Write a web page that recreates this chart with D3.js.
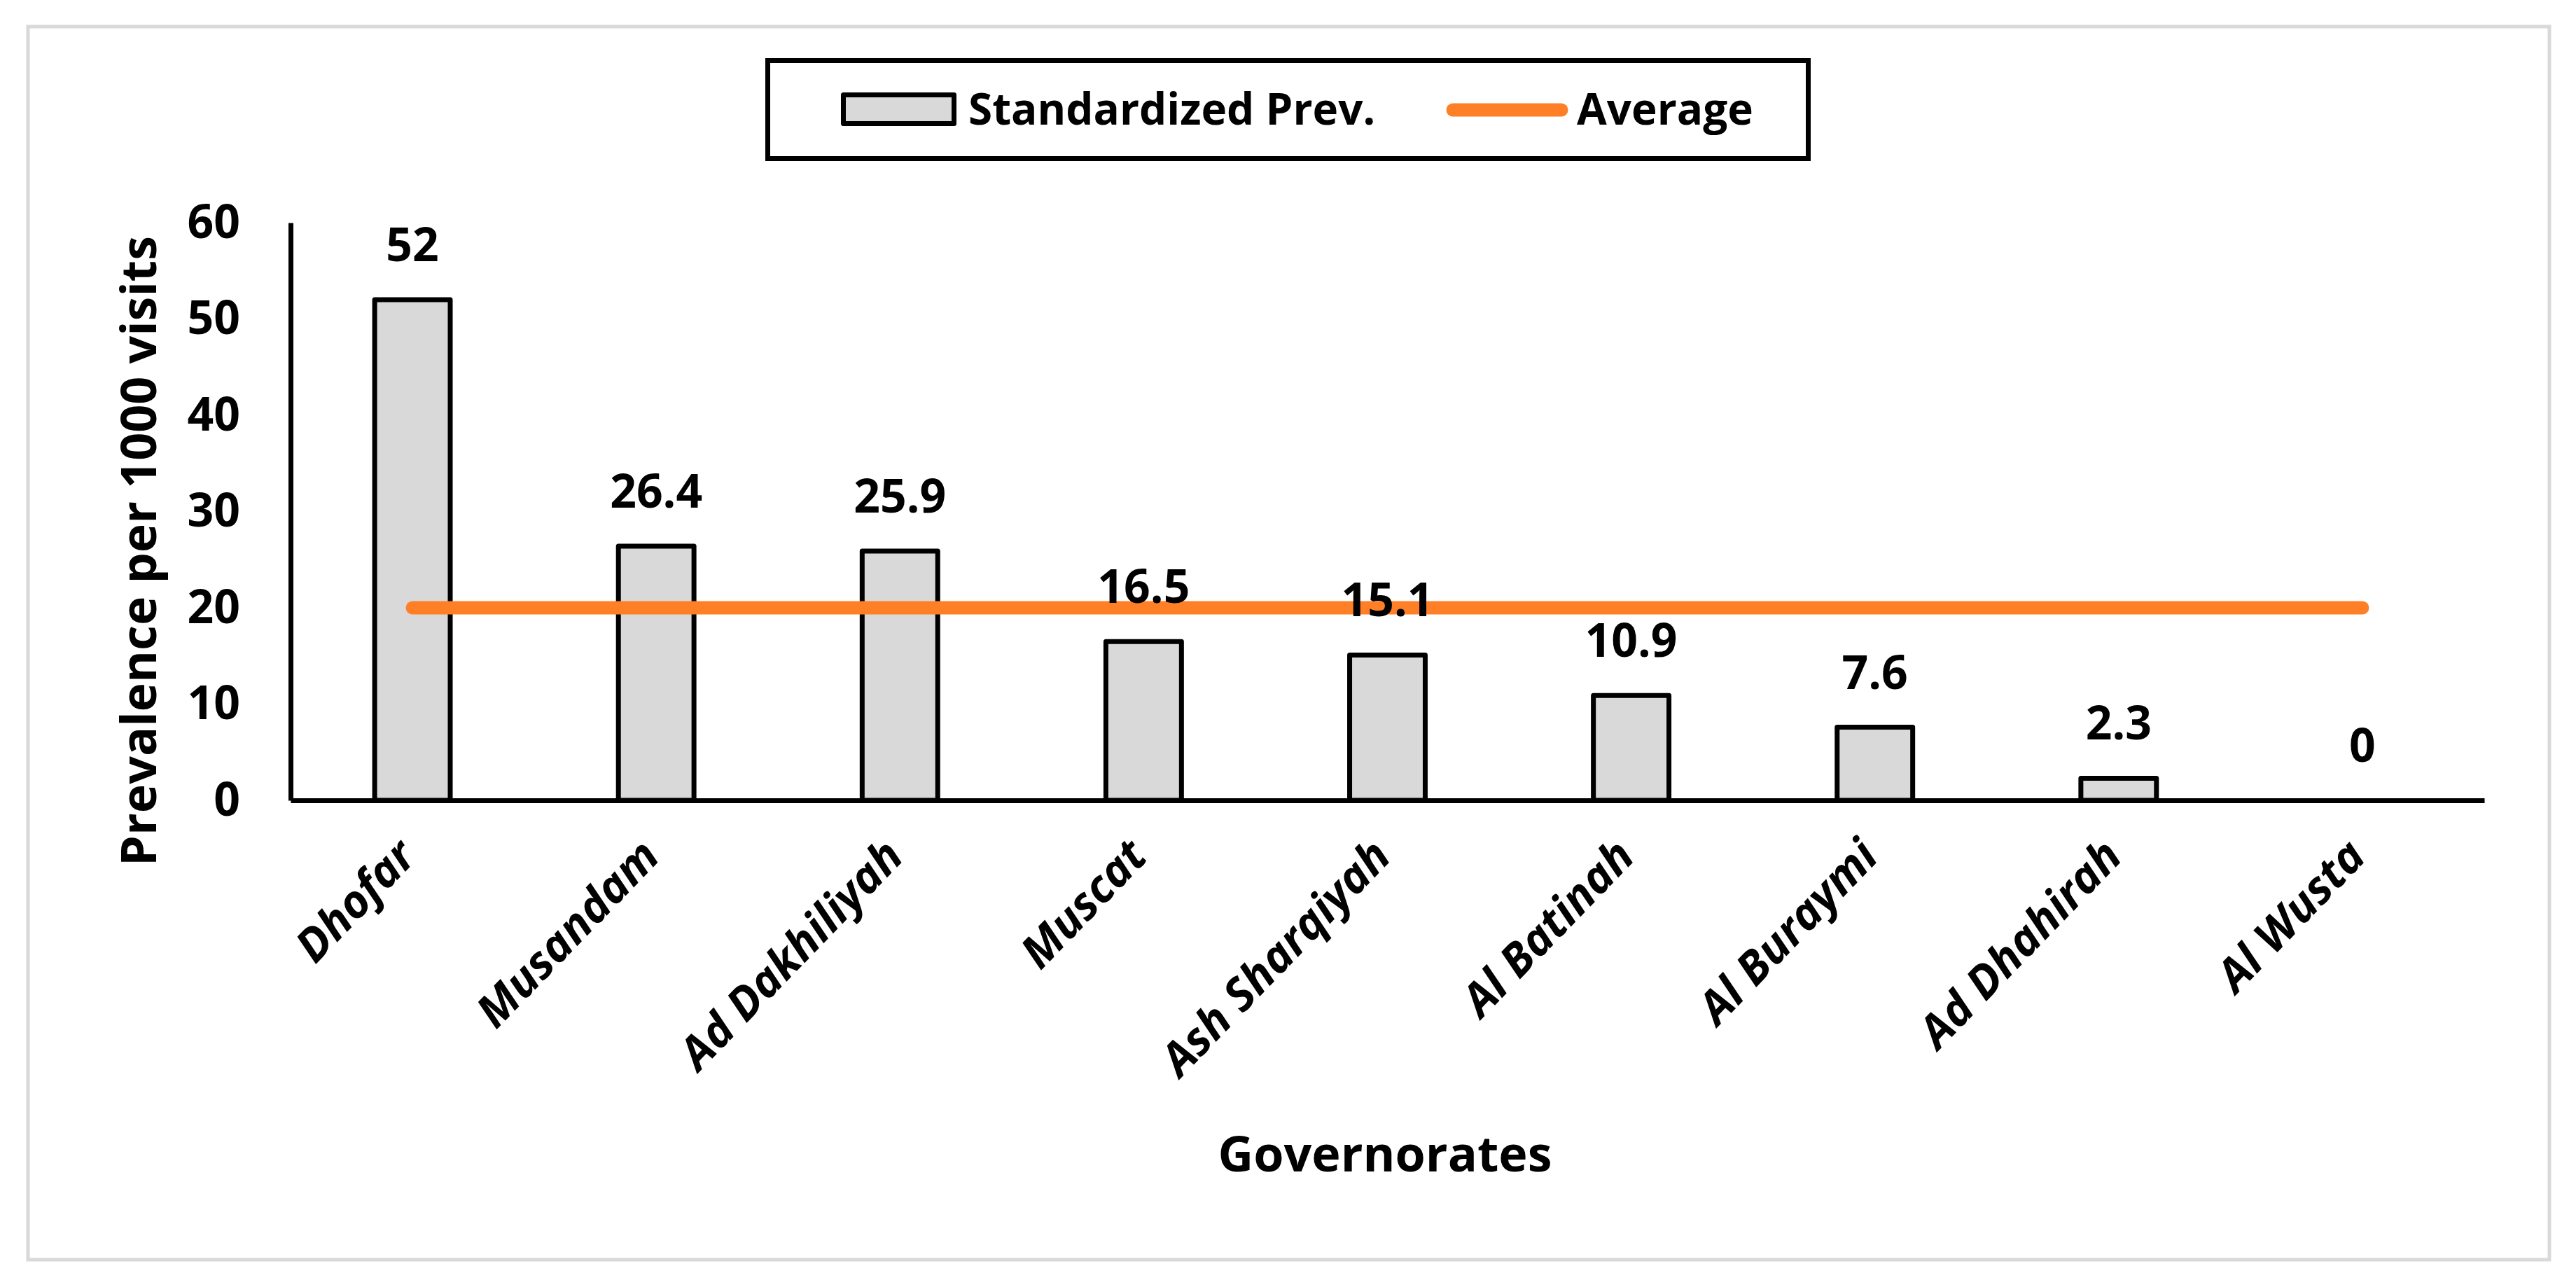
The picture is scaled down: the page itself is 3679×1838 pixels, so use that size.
<!DOCTYPE html>
<html>
<head>
<meta charset="utf-8">
<script src="https://cdnjs.cloudflare.com/ajax/libs/d3/7.8.5/d3.min.js"></script>
<style>
  html, body { margin: 0; padding: 0; background: #fff; }
  text { font-family: "Open Sans", "Noto Sans", sans-serif; font-weight: bold; fill: #000; }
</style>
</head>
<body>
<div id="chart"></div>
<script>
var categories = ["Dhofar", "Musandam", "Ad Dakhiliyah", "Muscat", "Ash Sharqiyah",
                  "Al Batinah", "Al Buraymi", "Ad Dhahirah", "Al Wusta"];
var prevalence = [52, 26.4, 25.9, 16.5, 15.1, 10.9, 7.6, 2.3, 0];
var average = [20, 20, 20, 20, 20, 20, 20, 20, 20];
var yTicks = [0, 10, 20, 30, 40, 50, 60];

var opts = {
    width: 3679,
    height: 1838,
    left: 415,
    right: 3548,
    top: 318,
    bottom: 1143
};

drawChart("#chart", opts);

function drawChart(containerID, o) {
    var svg = d3.select(containerID).append("svg")
        .attr("width", o.width)
        .attr("height", o.height);

    // outer frame
    svg.append("rect")
        .attr("x", 40).attr("y", 38)
        .attr("width", 3601).attr("height", 1761)
        .attr("fill", "#fff")
        .attr("stroke", "#d9d9d9")
        .attr("stroke-width", 5);

    var x = d3.scaleBand()
        .domain(categories)
        .range([o.left, o.right])
        .paddingInner(0.69)
        .paddingOuter(0.345);

    var y = d3.scaleLinear()
        .domain([0, 60])
        .range([o.bottom, o.top]);

    var data = categories.map(function(c, i) {
        return { name: c, value: prevalence[i], avg: average[i] };
    });

    // y axis (labels only, no tick marks)
    var yAxis = svg.append("g")
        .attr("transform", "translate(" + o.left + ",0)")
        .call(d3.axisLeft(y).tickValues(yTicks).tickSize(0).tickPadding(72));
    yAxis.select(".domain").attr("stroke", "#000").attr("stroke-width", 7);
    yAxis.selectAll("text")
        .style("font-family", '"Open Sans", sans-serif')
        .style("font-weight", "bold")
        .style("font-size", "66px");

    // bars
    svg.selectAll(".bar")
        .data(data)
        .enter().append("rect")
        .attr("class", "bar")
        .attr("x", function(d) { return x(d.name); })
        .attr("y", function(d) { return y(d.value); })
        .attr("width", x.bandwidth())
        .attr("height", function(d) { return y(0) - y(d.value); })
        .attr("fill", "#d9d9d9")
        .attr("stroke", "#000")
        .attr("stroke-width", 7)
        .attr("stroke-linejoin", "round");

    // x axis
    var xAxis = svg.append("g")
        .attr("transform", "translate(0," + o.bottom + ")")
        .call(d3.axisBottom(x).tickSize(0).tickFormat(""));
    xAxis.select(".domain").attr("stroke", "#000").attr("stroke-width", 7);

    // category labels, rotated
    svg.selectAll(".cat")
        .data(data)
        .enter().append("text")
        .attr("class", "cat")
        .attr("transform", function(d) {
            return "translate(" + (x(d.name) + x.bandwidth() / 2 + 8) + ",1226) rotate(-46)";
        })
        .style("text-anchor", "end")
        .style("font-style", "italic")
        .style("font-size", "65px")
        .text(function(d) { return d.name; });

    // average line
    var line = d3.line()
        .x(function(d) { return x(d.name) + x.bandwidth() / 2; })
        .y(function(d) { return y(d.avg); });

    svg.append("path")
        .datum(data)
        .attr("d", line)
        .attr("fill", "none")
        .attr("stroke", "#ff7f27")
        .attr("stroke-width", 19)
        .attr("stroke-linecap", "round");

    // data labels
    svg.selectAll(".val")
        .data(data)
        .enter().append("text")
        .attr("class", "val")
        .attr("x", function(d) { return x(d.name) + x.bandwidth() / 2; })
        .attr("y", function(d) { return y(d.value) - 55; })
        .style("text-anchor", "middle")
        .style("font-size", "66px")
        .text(function(d) { return d.value; });

    // axis titles
    svg.append("text")
        .attr("transform", "translate(223,787) rotate(-90)")
        .style("text-anchor", "middle")
        .style("font-size", "70px")
        .text("Prevalence per 1000 visits");

    svg.append("text")
        .attr("x", 1978)
        .attr("y", 1673)
        .style("text-anchor", "middle")
        .style("font-size", "70px")
        .text("Governorates");

    // legend
    var lg = svg.append("g");
    lg.append("rect")
        .attr("x", 1096.5).attr("y", 86.5)
        .attr("width", 1486).attr("height", 140)
        .attr("fill", "#fff")
        .attr("stroke", "#000")
        .attr("stroke-width", 7);
    lg.append("rect")
        .attr("x", 1204.5).attr("y", 135.5)
        .attr("width", 158).attr("height", 41)
        .attr("fill", "#d9d9d9")
        .attr("stroke", "#000")
        .attr("stroke-width", 7)
        .attr("stroke-linejoin", "round");
    lg.append("text")
        .attr("x", 1383).attr("y", 178)
        .style("font-size", "62px")
        .text("Standardized Prev.");
    lg.append("line")
        .attr("x1", 2075).attr("x2", 2230)
        .attr("y1", 157).attr("y2", 157)
        .attr("stroke", "#ff7f27")
        .attr("stroke-width", 19)
        .attr("stroke-linecap", "round");
    lg.append("text")
        .attr("x", 2252).attr("y", 178)
        .style("font-size", "62px")
        .text("Average");
}
</script>
</body>
</html>
